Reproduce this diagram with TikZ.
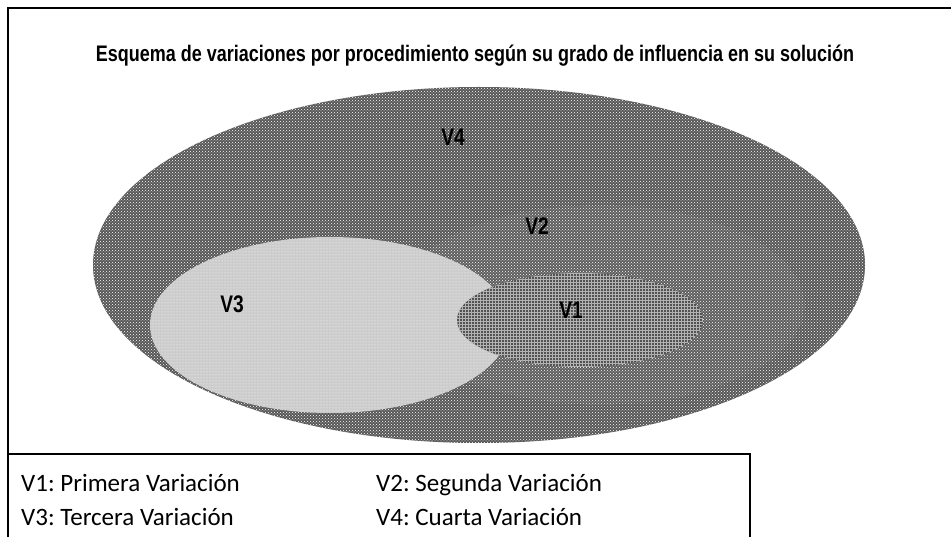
\documentclass[tikz,border=0pt]{standalone}
\usepackage{fontspec}
\setmainfont{Carlito}
\newfontfamily\narrowfont{Liberation Sans}[FakeStretch=0.80]
\usetikzlibrary{patterns}
\frenchspacing
\tikzset{
  frameline/.style={line width=1.4pt, black},
  vlabel/.style={font=\narrowfont\bfseries\fontsize{24}{26}\selectfont, inner sep=0pt},
  legendtext/.style={font=\fontsize{25}{28}\selectfont, anchor=base west, inner sep=0pt},
}
\begin{document}
\begin{tikzpicture}[x=1pt,y=-1pt]
\useasboundingbox (0,0) rectangle (951,537);
\fill[white] (0,0) rectangle (951,537);
% frame
\coordinate (ftr) at (951,8);
\coordinate (ftl) at (8,8);
\coordinate (fbl) at (8,537);
\draw[frameline] (ftr) -- (ftl) -- (fbl);
% title
\node[font=\narrowfont\bfseries\fontsize{22.5}{25}\selectfont, inner sep=0pt] (title) at (475,56)
  {Esquema de variaciones por procedimiento según su grado de influencia en su solución};
% ellipses
\fill[black!66, postaction={pattern=crosshatch dots, pattern color=white}] (479,265) ellipse [x radius=386, y radius=178];
\fill[black!63, postaction={pattern=crosshatch dots, pattern color=white}] (600,305) ellipse [x radius=205, y radius=100];
\fill[black!20, postaction={pattern=dots, pattern color=white}] (330,325) ellipse [x radius=180, y radius=88];
\fill[black!68, postaction={pattern=grid, pattern color=white!70!black}] (580,320) ellipse [x radius=123, y radius=47];
% labels
\node[vlabel] (v4) at (453,137) {V4};
\node[vlabel] (v2) at (537,226) {V2};
\node[vlabel] (v3) at (232,304) {V3};
\node[vlabel] (v1) at (571,310) {V1};
% legend box
\coordinate (lbl) at (8,454);
\coordinate (lbr) at (750,454);
\coordinate (lbb) at (750,537);
\draw[frameline] (lbl) -- (lbr) -- (lbb);
\node[legendtext] (l1) at (21,491) {V1: Primera Variación};
\node[legendtext] (l2) at (376,491) {V2: Segunda Variación};
\node[legendtext] (l3) at (21,525) {V3: Tercera Variación};
\node[legendtext] (l4) at (376,525) {V4: Cuarta Variación};
\end{tikzpicture}
\end{document}
